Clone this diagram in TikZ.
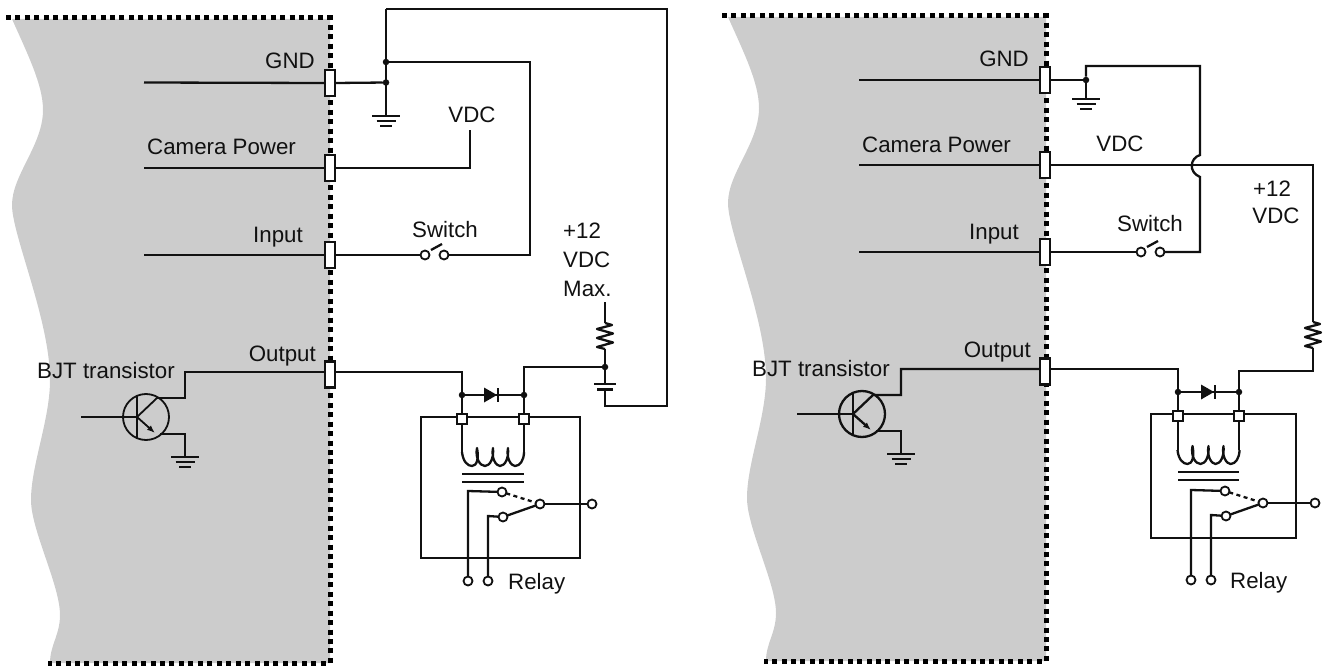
\documentclass[tikz,border=0pt]{standalone}
\usepackage{fontspec}
\setmainfont{Liberation Sans}
\usetikzlibrary{arrows.meta}
\definecolor{panelgray}{HTML}{CCCCCC}
\definecolor{ink}{HTML}{111111}
\tikzset{
  x=1pt,y=-1pt,
  wire/.style={line width=2.3pt,draw=ink,line join=miter},
  thinwire/.style={line width=1.8pt,draw=ink},
  border/.style={line width=5pt,draw=black,dash pattern=on 5pt off 4.45pt},
  port/.style={draw=ink,fill=white,line width=2.2pt,minimum width=10pt,minimum height=26pt,inner sep=0pt,outer sep=0pt},
  pad/.style={draw=ink,fill=white,line width=1.8pt,minimum size=10pt,inner sep=0pt,outer sep=0pt},
  term/.style={circle,draw=ink,fill=white,line width=1.8pt,minimum size=9pt,inner sep=0pt,outer sep=0pt},
  dotj/.style={circle,fill=ink,minimum size=6.5pt,inner sep=0pt,outer sep=0pt},
  lab/.style={inner sep=0pt,font=\fontsize{22.3}{26}\selectfont,text=ink},
  earth/.pic={
    \draw[wire] (-14,0) -- (14,0);
    \draw[wire] (-9.5,5) -- (9.5,5);
    \draw[wire] (-6,10) -- (6,10);
  },
  zigzag/.pic={
    \draw[wire,line join=round] (0,0) -- (7,2) -- (-8,6) -- (8,10.5) -- (-8,15) -- (8,19.5) -- (-8,24) -- (0,26);
  },
  coil/.pic={
    \draw[wire,line join=round] (0,0) .. controls (1,10) and (6,14) .. (10,14)
      .. controls (15,14) and (17,6) .. (15,-4)
      .. controls (13,6) and (18,14) .. (23,14)
      .. controls (28,14) and (32,6) .. (31,-4)
      .. controls (29,6) and (34,14) .. (38,14)
      .. controls (43,14) and (47,6) .. (46,-4)
      .. controls (44,6) and (49,14) .. (53,14)
      .. controls (58,14) and (62,8) .. (62,0);
  },
  diodesym/.pic={
    \fill[ink] (-7,-7.5) -- (6,0) -- (-7,7.5) -- cycle;
    \draw[thinwire] (7,-7) -- (7,7);
  },
}
\begin{document}
\begin{tikzpicture}
\useasboundingbox (0,0) rectangle (1323,666);
% ---------- LEFT PANEL ----------
\fill[panelgray] (12,19) .. controls (28,55) and (43,85) .. (43,110)
  .. controls (43,145) and (12,175) .. (12,205)
  .. controls (12,235) and (50,320) .. (50,380)
  .. controls (50,420) and (31,465) .. (31,500)
  .. controls (31,530) and (60,585) .. (60,615)
  .. controls (60,635) and (50,645) .. (50,663)
  -- (330,663) -- (330,19) -- cycle;
\draw[border] (6,18) -- (330,18) -- (330,663) -- (48,663);

\node[port] (gndA) at (330,83) {};
\node[port] (camA) at (330,168) {};
\node[port] (inpA) at (330,255) {};
\node[port] (outA) at (330,374.5) {};
\coordinate (gndAi) at (144,82.5);
\coordinate (camAi) at (144,168);
\coordinate (inpAi) at (144,255);
\draw[wire] (gndAi) -- (gndA.west);
\draw[wire] (camAi) -- (camA.west);
\draw[wire] (inpAi) -- (inpA.west);

\node[lab,anchor=east] (tGndA) at (315,61) {GND};
\node[lab,anchor=west] (tCamA) at (147,147) {Camera Power};
\node[lab,anchor=east] (tInpA) at (303,237) {Input};
\node[lab,anchor=east] (tOutA) at (316,356) {Output};
\node[lab,anchor=west] (tBjtA) at (37,371) {BJT transistor};
\node[lab] (tVdcA) at (472,115) {VDC};
\node[lab] (tSwA) at (445,230) {Switch};
\node[lab,anchor=west] (tA1) at (563,231) {+12};
\node[lab,anchor=west] (tA2) at (563,260) {VDC};
\node[lab,anchor=west] (tA3) at (563,289) {Max.};
\node[lab,anchor=west] (tRelA) at (508,584) {Relay};

% ground / top loop
\node[dotj] (jA1) at (386,82.5) {};
\node[dotj] (jA2) at (386,62) {};
\coordinate (topA) at (386,9);
\coordinate (gA) at (386,116);
\pic at (gA) {earth};
\draw[wire] (gndA.east) -- (jA1);
\draw[wire] (topA) -- (gA);
% switch
\node[term] (swA1) at (425,255) {};
\node[term] (swA2) at (444,255) {};
\draw[wire] (jA2) -- (530,62) -- (530,255) -- (swA2.east);
\draw[wire] (inpA.east) -- (swA1.west);
\draw[wire] (431,250) -- (442,244);
% vdc
\draw[wire] (camA.east) -- (470,168) -- (470,130);
% relay
\draw[wire] (421,417) rectangle (580,558);
\node[pad] (pA1) at (462,419) {};
\node[pad] (pA2) at (524,419) {};
\node[dotj] (jA3) at (462,395) {};
\node[dotj] (jA4) at (524,395) {};
\node[dotj] (jA5) at (605,367) {};
\draw[thinwire] (outA.east |- 0,372) -- (462,372) -- (jA3);
\draw[wire] (jA3) -- (pA1);
\draw[wire] (jA3) -- (jA4);
\pic at (491,395) {diodesym};
\draw[wire] (jA4) -- (pA2);
\draw[wire] (jA4) -- (524,367) -- (jA5);
\draw[wire] (605,302) -- (605,323);
\pic at (605,323) {zigzag};
\draw[wire] (605,349) -- (jA5);
\draw[wire] (jA5) -- (605,384);
\draw[wire] (594,384) -- (616,384);
\draw[wire] (597,389.5) -- (613,389.5);
\draw[wire] (605,389.5) -- (605,406) -- (667,406) -- (667,9) -- (topA);
\draw[wire] (pA1) -- (462,452);
\draw[wire] (pA2) -- (524,452);
\pic at (462,452) {coil};
\draw[wire] (462,474) -- (524,474);
\draw[wire] (462,482) -- (524,482);
\node[term] (cA1) at (502,492) {};
\node[term] (cA2) at (503,517) {};
\node[term] (cA3) at (540,504) {};
\node[term] (cA4) at (592,504) {};
\node[term] (cA5) at (468,581) {};
\node[term] (cA6) at (488,581) {};
\draw[wire] (cA5) -- (468,491) -- (cA1);
\draw[wire] (cA6) -- (488,516) -- (cA2);
\draw[wire] (cA2) -- (cA3);
\draw[wire,dash pattern=on 4pt off 3.5pt] (cA1) -- (cA3);
\draw[wire] (cA3) -- (cA4);
% transistor
\node[circle,draw=ink,line width=1.8pt,minimum size=46pt,inner sep=0pt,outer sep=0pt] (qA) at (146,417) {};
\coordinate (qAb) at (137,417);
\coordinate (qAi) at (81,417);
\draw[thinwire] (qAi) -- (qAb);
\draw[thinwire] (137,395) -- (137,439);
\draw[thinwire] (qAb) -- (157,398) -- (185,398) -- (185,372) -- (outA.west |- 0,372);
\draw[thinwire,-{Latex[length=8pt,width=6pt]}] (qAb) -- (155,433);
\coordinate (gA2) at (185,457);
\draw[thinwire] (160,434) -- (185,434) -- (gA2);
\pic at (gA2) {earth};

% ---------- RIGHT PANEL ----------
\fill[panelgray] (728,17) .. controls (744,53) and (759,83) .. (759,108)
  .. controls (759,143) and (728,173) .. (728,203)
  .. controls (728,233) and (766,318) .. (766,378)
  .. controls (766,418) and (747,463) .. (747,498)
  .. controls (747,528) and (776,583) .. (776,613)
  .. controls (776,633) and (766,643) .. (766,661)
  -- (1046,661) -- (1046,17) -- cycle;
\draw[border] (722,16) -- (1046,16) -- (1046,661) -- (764,661);

\node[port] (gndB) at (1045,80) {};
\node[port] (camB) at (1045,165) {};
\node[port] (inpB) at (1045,252) {};
\node[port] (outB) at (1045,371.5) {};
\coordinate (gndBi) at (859,80);
\coordinate (camBi) at (859,165);
\coordinate (inpBi) at (859,252);
\draw[wire] (gndBi) -- (gndB.west);
\draw[wire] (camBi) -- (camB.west);
\draw[wire] (inpBi) -- (inpB.west);

\node[lab,anchor=east] (tGndB) at (1029,59) {GND};
\node[lab,anchor=west] (tCamB) at (862,145) {Camera Power};
\node[lab,anchor=east] (tInpB) at (1019,234) {Input};
\node[lab,anchor=east] (tOutB) at (1031,352) {Output};
\node[lab,anchor=west] (tBjtB) at (752,369) {BJT transistor};
\node[lab] (tVdcB) at (1120,144) {VDC};
\node[lab] (tSwB) at (1150,224) {Switch};
\node[lab] (tB1) at (1272,189) {+12};
\node[lab] (tB2) at (1276,216) {VDC};
\node[lab,anchor=west] (tRelB) at (1230,583) {Relay};

\node[dotj] (jB1) at (1086,80) {};
\coordinate (gB) at (1086,99);
\pic at (gB) {earth};
\draw[wire] (gndB.east) -- (jB1);
\draw[wire] (jB1) -- (gB);
\node[term] (swB1) at (1141,252) {};
\node[term] (swB2) at (1160,252) {};
\draw[wire] (inpB.east) -- (swB1.west);
\draw[wire] (1147,247) -- (1158,241);
\draw[wire] (jB1) -- (1086,66) -- (1200,66) -- (1200,155)
  .. controls (1190,158) and (1188,172) .. (1200,177) -- (1200,252) -- (swB2.east);
% relay
\draw[wire] (1151,414) rectangle (1296,538);
\node[pad] (pB1) at (1178,416) {};
\node[pad] (pB2) at (1239,416) {};
\node[dotj] (jB3) at (1178,392) {};
\node[dotj] (jB4) at (1239,392) {};
\draw[wire] (camB.east) -- (1313,165) -- (1313,322);
\pic at (1313,322) {zigzag};
\draw[wire] (1313,348) -- (1313,371) -- (1239,371) -- (jB4);
\draw[wire] (outB.east |- 0,369) -- (1178,369) -- (jB3);
\draw[wire] (jB3) -- (pB1);
\draw[wire] (jB3) -- (jB4);
\pic at (1208,392) {diodesym};
\draw[wire] (jB4) -- (pB2);
\draw[wire] (pB1) -- (1178,450);
\draw[wire] (pB2) -- (1239,450);
\pic at (1177.5,450) {coil};
\draw[wire] (1178,472) -- (1239,472);
\draw[wire] (1178,480) -- (1239,480);
\node[term] (cB1) at (1225,491) {};
\node[term] (cB2) at (1226,516) {};
\node[term] (cB3) at (1263,503) {};
\node[term] (cB4) at (1315,503) {};
\node[term] (cB5) at (1191,580) {};
\node[term] (cB6) at (1211,580) {};
\draw[wire] (cB5) -- (1191,490) -- (cB1);
\draw[wire] (cB6) -- (1211,515) -- (cB2);
\draw[wire] (cB2) -- (cB3);
\draw[wire,dash pattern=on 4pt off 3.5pt] (cB1) -- (cB3);
\draw[wire] (cB3) -- (cB4);
% transistor
\node[circle,draw=ink,line width=2.3pt,minimum size=46pt,inner sep=0pt,outer sep=0pt] (qB) at (862,414) {};
\coordinate (qBb) at (853,414);
\coordinate (qBi) at (797,414);
\draw[wire] (qBi) -- (qBb);
\draw[wire] (853,392) -- (853,436);
\draw[wire] (qBb) -- (873,395) -- (901,395) -- (901,369) -- (outB.west |- 0,369);
\draw[wire,-{Latex[length=8pt,width=6pt]}] (qBb) -- (871,430);
\coordinate (gB2) at (901,454);
\draw[wire] (876,431) -- (901,431) -- (gB2);
\pic at (gB2) {earth};
\end{tikzpicture}
\end{document}
